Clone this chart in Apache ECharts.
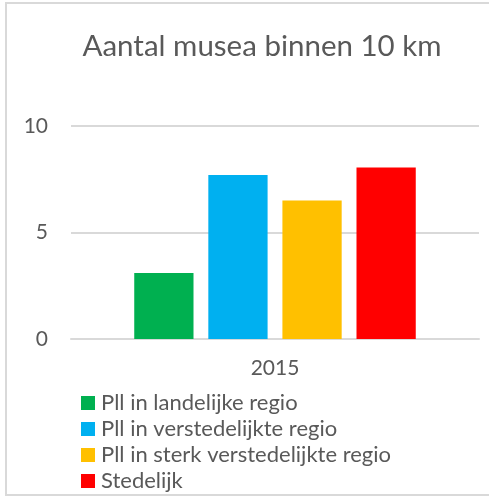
<!DOCTYPE html>
<html>
<head>
<meta charset="utf-8">
<script src="https://cdn.jsdelivr.net/npm/echarts@6/dist/echarts.min.js"></script>
<style>
  html, body { margin: 0; padding: 0; background: #fff; }
  #chart { width: 489px; height: 497px; }
</style>
</head>
<body>
<div id="chart"></div>
<script>
const categories = ['2015']
const seriesNames = [
  'Pll in landelijke regio',
  'Pll in verstedelijkte regio',
  'Pll in sterk verstedelijkte regio',
  'Stedelijk'
]
const seriesValues = [[3.1], [7.7], [6.5], [8.05]]
const seriesColors = ['#00b050', '#00b0f0', '#ffc000', '#ff0000']

const font = 'Lato, "Open Sans", sans-serif'
const textColor = '#595959'

// 基于准备好的dom，初始化echarts实例
let chart = echarts.init(document.getElementById('chart'))
chart.setOption({
  backgroundColor: '#fff',
  animation: false,
  textStyle: { fontFamily: font },
  title: {
    text: 'Aantal musea binnen 10 km',
    left: 257,
    top: 26,
    textAlign: 'center',
    textStyle: { color: textColor, fontSize: 29.5, fontWeight: 'normal', fontFamily: font }
  },
  graphic: [{
    type: 'rect',
    silent: true,
    shape: { x: 6, y: 3, width: 600, height: 492 },
    style: { fill: 'none', stroke: '#d9d9d9', lineWidth: 2 }
  }],
  grid: { left: 71, right: 10, top: 126, bottom: 158 },
  legend: {
    orient: 'vertical',
    left: 76,
    top: 387,
    height: 200,
    icon: 'rect',
    itemWidth: 14,
    itemHeight: 14,
    itemGap: 4,
    data: seriesNames,
    textStyle: { color: textColor, fontSize: 22, lineHeight: 22, fontFamily: font, padding: [0, 0, 0, 1] }
  },
  xAxis: {
    type: 'category',
    data: categories,
    axisLine: { lineStyle: { color: '#d9d9d9', width: 2 } },
    axisTick: { show: false },
    axisLabel: { color: textColor, fontSize: 21, margin: 19, fontFamily: font }
  },
  yAxis: {
    type: 'value',
    min: 0,
    max: 10,
    interval: 5,
    axisLine: { show: false },
    axisTick: { show: false },
    splitLine: { lineStyle: { color: '#d9d9d9', width: 2 } },
    axisLabel: { color: textColor, fontSize: 21, margin: 23, fontFamily: font }
  },
  series: seriesNames.map((name, i) => ({
    name: name,
    type: 'bar',
    data: seriesValues[i],
    itemStyle: { color: seriesColors[i] },
    barGap: '25%',
    barCategoryGap: '31%'
  }))
})
</script>
</body>
</html>
